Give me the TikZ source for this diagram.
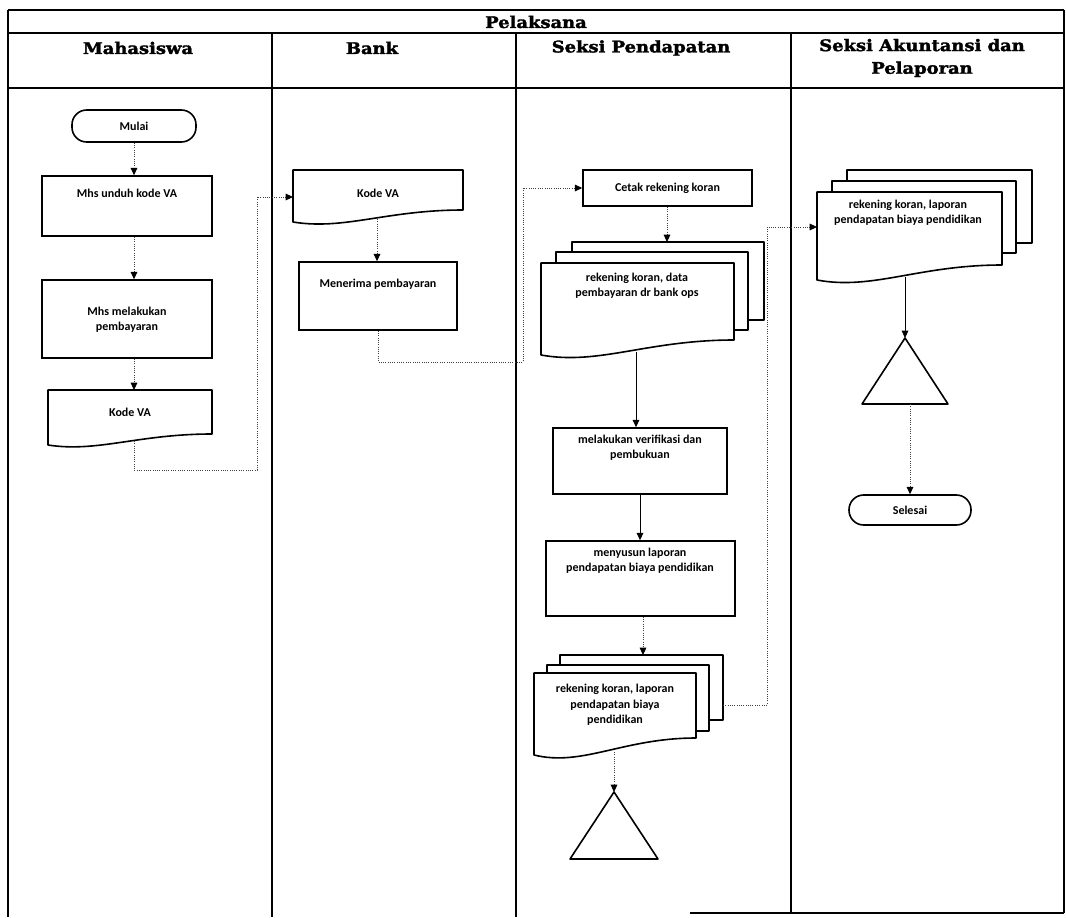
\documentclass[tikz,border=0pt]{standalone}
\usepackage{fontspec}
\setmainfont{Carlito}
\newfontfamily\headfont[FakeStretch=1.12,FakeBold=2]{DejaVu Serif}
\usetikzlibrary{arrows.meta,calc}

% document symbol with a wavy lower edge: left, top, right, bottom-left, bottom-right
\newcommand\docshape[5]{%
  \draw[shapeline,fill=white] (#1,#2) -- (#3,#2) -- (#3,#5)
    .. controls ({#1+0.55*(#3-#1)},{#5}) and ({#1+0.3*(#3-#1)},{#4+0.7*(#4-#5)}) .. (#1,#4) -- cycle;}

\begin{document}
\begin{tikzpicture}[x=0.75pt,y=-0.75pt,
  laneline/.style={line width=1.6pt},
  shapeline/.style={line width=1.2pt,line join=round},
  proc/.style={draw,line width=1.2pt,fill=white,rectangle,inner sep=0pt},
  term/.style={draw,line width=1.2pt,fill=white,rectangle,rounded corners=11pt,inner sep=0pt,
     font=\bfseries\fontsize{9}{11}\selectfont},
  txt/.style={align=center,inner sep=0pt,font=\bfseries\fontsize{9}{11.5}\selectfont},
  head/.style={align=center,inner sep=0pt,font=\headfont\bfseries\fontsize{12}{17}\selectfont},
  flowdot/.style={densely dotted,line width=0.7pt,black!75,
     -{Triangle[length=5.5pt,width=5pt,black]}},
  flowsolid/.style={line width=0.7pt,-{Triangle[length=5.5pt,width=5pt]}},
  linkdot/.style={densely dotted,line width=0.7pt,black!75}
]
\useasboundingbox (0,0) rectangle (1066,917);

% ---- swimlane frame ----
\draw[laneline] (8,10) -- (1064,10);
\draw[laneline] (8,33) -- (1064,33);
\draw[laneline] (8,88) -- (1064,88);
\draw[laneline] (8,10) -- (8,917);
\draw[laneline] (1064,10) -- (1064,913);
\draw[laneline] (272,33) -- (272,917);
\draw[laneline] (516,33) -- (516,917);
\draw[laneline] (791,33) -- (791,913);
\draw[laneline] (690,913) -- (1064,913);

\node[head] (hpel) at (536,22) {Pelaksana};
\node[head] (hmhs) at (138,48) {Mahasiswa};
\node[head] (hbank) at (372,48) {Bank};
\node[head] (hpend) at (641,48) {Seksi Pendapatan};
\node[head] (hakun) at (922,58) {Seksi Akuntansi dan\\Pelaporan};

% ---- Mahasiswa ----
\node[term,minimum width=124*0.75pt,minimum height=32*0.75pt] (mulai) at (134,126) {Mulai};
\node[proc,minimum width=170*0.75pt,minimum height=60*0.75pt] (unduh) at (127,206) {};
\node[txt] (unduht) at (127,193) {Mhs unduh kode VA};
\node[proc,minimum width=170*0.75pt,minimum height=78*0.75pt] (bayar) at (127,319) {};
\node[txt] (bayart) at (127,320) {Mhs melakukan\\pembayaran};
\docshape{48}{390}{212}{445}{434}
\node[txt] (mkva) at (130,412) {Kode VA};
\coordinate (mkvatop) at (134,390);
\coordinate (mkvabot) at (134,441);

% ---- Bank ----
\docshape{293}{170}{463}{222}{210}
\node[txt] (bkva) at (378,193) {Kode VA};
\coordinate (bkvain) at (293,197);
\coordinate (bkvabot) at (377,219);
\node[proc,minimum width=158*0.75pt,minimum height=68*0.75pt] (terima) at (378,296) {};
\node[txt] (terimat) at (378,284) {Menerima pembayaran};

% ---- Seksi Pendapatan ----
\node[proc,minimum width=169*0.75pt,minimum height=36*0.75pt,
      font=\bfseries\fontsize{9}{11}\selectfont] (cetak) at (667.5,188) {Cetak rekening koran};
\draw[shapeline,fill=white] (572,242) rectangle (764,320);
\draw[shapeline,fill=white] (556,252) rectangle (748,330);
\docshape{541}{263}{734}{355}{340}
\node[txt] (md1) at (637,286) {rekening koran, data\\pembayaran dr bank ops};
\coordinate (md1top) at (667,242);
\coordinate (md1bot) at (636,352);
\node[proc,minimum width=174*0.75pt,minimum height=66*0.75pt] (verif) at (640,461) {};
\node[txt] (veriftx) at (640,448) {melakukan verifikasi dan\\pembukuan};
\node[proc,minimum width=189*0.75pt,minimum height=75*0.75pt] (susun) at (640.5,578.5) {};
\node[txt] (susuntx) at (640,561) {menyusun laporan\\pendapatan biaya pendidikan};
\draw[shapeline,fill=white] (560,655) rectangle (723,720);
\draw[shapeline,fill=white] (547,665) rectangle (709,731);
\docshape{534}{673}{696}{755}{738}
\node[txt] (md2) at (615,705) {rekening koran, laporan\\pendapatan biaya\\pendidikan};
\coordinate (md2top) at (643,655);
\coordinate (md2bot) at (614,752);
\coordinate (md2out) at (723,705);
\draw[shapeline,fill=white] (614,792) -- (658,859) -- (570,859) -- cycle;
\coordinate (tri1) at (614,792);

% ---- Seksi Akuntansi dan Pelaporan ----
\draw[shapeline,fill=white] (847,170) rectangle (1032,243);
\draw[shapeline,fill=white] (832,181) rectangle (1016,253);
\docshape{817}{192}{1002}{280}{265}
\node[txt] (md3) at (908,213) {rekening koran, laporan\\pendapatan biaya pendidikan};
\coordinate (md3in) at (817,227);
\coordinate (md3bot) at (905,277);
\draw[shapeline,fill=white] (905,338) -- (948,404) -- (862,404) -- cycle;
\coordinate (tri2) at (905,338);
\coordinate (tri2base) at (910,404);
\node[term,minimum width=122*0.75pt,minimum height=30*0.75pt] (selesai) at (910,510) {Selesai};

% ---- connectors ----
\draw[flowdot] (mulai) -- (mulai |- unduh.north);
\draw[flowdot] (unduh.south -| mulai) -- (bayar.north -| mulai);
\draw[flowdot] (bayar.south -| mulai) -- (mkvatop);
\coordinate (j1) at (257,470);
\draw[linkdot,-{Triangle[length=5.5pt,width=5pt,black]}] (mkvabot) |- (j1) |- (bkvain);
\draw[flowdot] (bkvabot) -- (terima.north -| bkvabot);
\coordinate (j2) at (523,362);
\draw[linkdot,-{Triangle[length=5.5pt,width=5pt,black]}] (terima.south) |- (j2) |- (cetak.west);
\draw[flowdot] (cetak.south -| md1top) -- (md1top);
\draw[flowsolid] (md1bot) -- (verif.north -| md1bot);
\draw[flowsolid] (verif.south) -- (susun.north -| verif.south);
\draw[flowdot] (susun.south -| md2top) -- (md2top);
\draw[flowdot] (md2bot) -- (tri1);
\coordinate (j3) at (767,227);
\draw[linkdot,-{Triangle[length=5.5pt,width=5pt,black]}] (md2out) -| (j3) -- (md3in);
\draw[flowsolid] (md3bot) -- (tri2);
\draw[flowdot] (tri2base) -- (selesai.north);
\end{tikzpicture}
\end{document}
